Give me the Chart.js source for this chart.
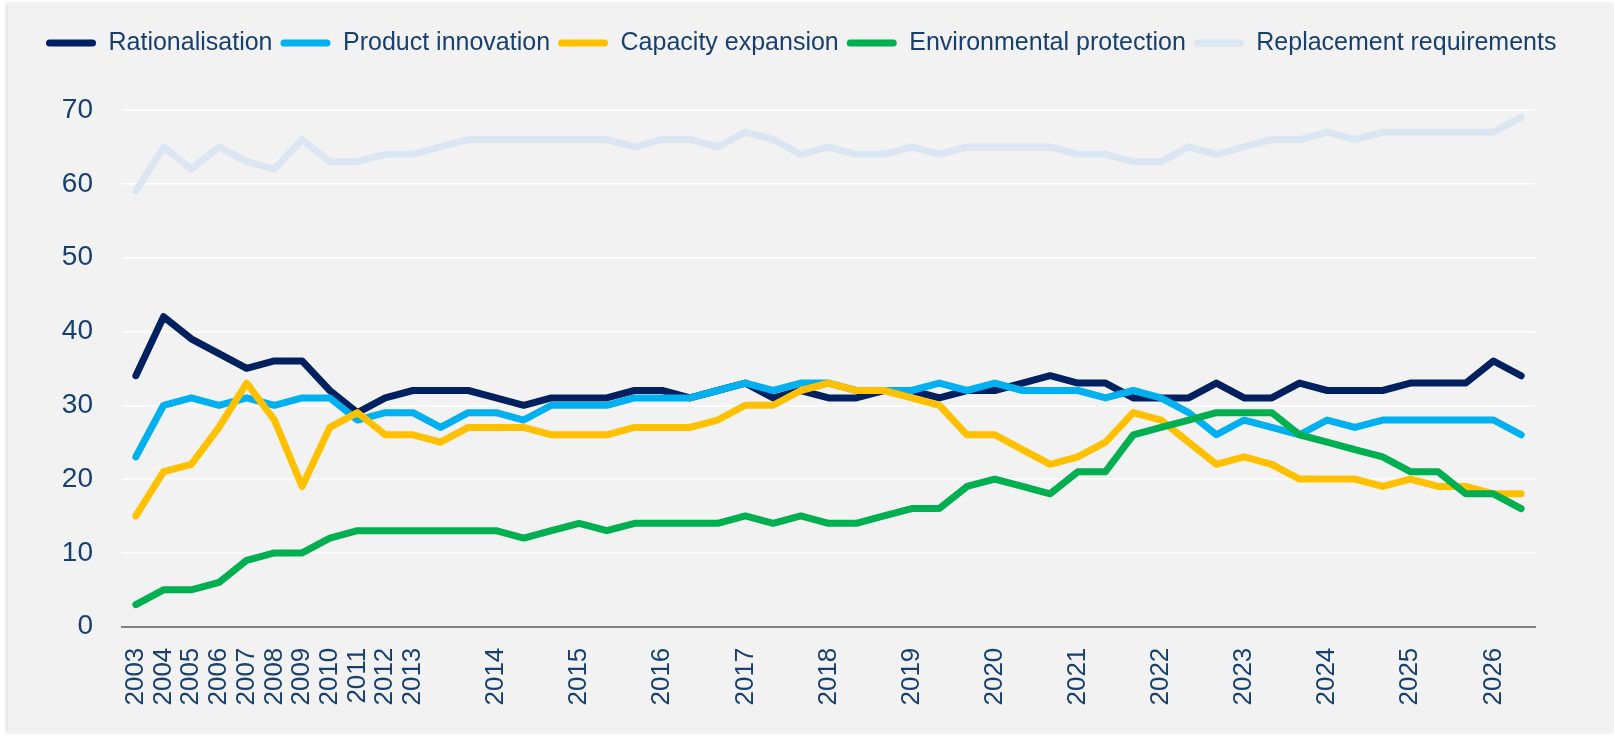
<!DOCTYPE html>
<html>
<head>
<meta charset="utf-8">
<title>Investment motives</title>
<script src="https://cdn.jsdelivr.net/npm/chart.js@4.4.1/dist/chart.umd.min.js"></script>
<style>
  html, body { margin: 0; padding: 0; background: #ffffff; }
  #panel {
    position: absolute; left: 8px; top: 3px; width: 1606px; height: 730px;
    background: #f2f2f2;
    box-shadow: -2px 0 3px rgba(0, 0, 0, 0.12);
  }
  #chart { display: block; }
</style>
</head>
<body>
<div id="panel"><canvas id="chart" width="1606" height="730"></canvas></div>
<script>
// survey points: yearly up to 2013, then three per year (only the year is labelled)
const categories = [
  '2003', '2004', '2005', '2006', '2007', '2008', '2009', '2010', '2011', '2012', '2013',
  '', '', '2014', '', '', '2015', '', '', '2016', '', '', '2017', '', '', '2018', '', '', '2019',
  '', '', '2020', '', '', '2021', '', '', '2022', '', '', '2023', '', '', '2024', '', '', '2025',
  '', '', '2026', ''
];

const rationalisation = [34, 42, 39, 37, 35, 36, 36, 32, 29, 31, 32, 32, 32, 31, 30, 31, 31, 31, 32, 32,
  31, 32, 33, 31, 32, 31, 31, 32, 32, 31, 32, 32, 33, 34, 33, 33, 31,
  31, 31, 33, 31, 31, 33, 32, 32, 32, 33, 33, 33, 36, 34];
const productInnovation = [23, 30, 31, 30, 31, 30, 31, 31, 28, 29, 29, 27, 29, 29, 28, 30, 30, 30, 31, 31,
  31, 32, 33, 32, 33, 33, 32, 32, 32, 33, 32, 33, 32, 32, 32, 31, 32,
  31, 29, 26, 28, 27, 26, 28, 27, 28, 28, 28, 28, 28, 26];
const capacityExpansion = [15, 21, 22, 27, 33, 28, 19, 27, 29, 26, 26, 25, 27, 27, 27, 26, 26, 26, 27, 27,
  27, 28, 30, 30, 32, 33, 32, 32, 31, 30, 26, 26, 24, 22, 23, 25, 29,
  28, 25, 22, 23, 22, 20, 20, 20, 19, 20, 19, 19, 18, 18];
const environmentalProtection = [3, 5, 5, 6, 9, 10, 10, 12, 13, 13, 13, 13, 13, 13, 12, 13, 14, 13, 14, 14,
  14, 14, 15, 14, 15, 14, 14, 15, 16, 16, 19, 20, 19, 18, 21, 21, 26,
  27, 28, 29, 29, 29, 26, 25, 24, 23, 21, 21, 18, 18, 16];
const replacementRequirements = [59, 65, 62, 65, 63, 62, 66, 63, 63, 64, 64, 65, 66, 66, 66, 66, 66, 66, 65, 66,
  66, 65, 67, 66, 64, 65, 64, 64, 65, 64, 65, 65, 65, 65, 64, 64, 63,
  63, 65, 64, 65, 66, 66, 67, 66, 67, 67, 67, 67, 67, 69];

const seriesNames = ['Rationalisation', 'Product innovation', 'Capacity expansion', 'Environmental protection', 'Replacement requirements'];
const seriesColors = ['#002060', '#00b0f0', '#ffc000', '#00b050', '#dce6f2'];
const yTicks = [0, 10, 20, 30, 40, 50, 60, 70];

const textColor = '#17406f';
const sansFont = "'Liberation Sans', Arial, sans-serif";

const allSeries = [rationalisation, productInnovation, capacityExpansion, environmentalProtection, replacementRequirements];
const datasets = allSeries.map((values, i) => ({
  label: seriesNames[i],
  data: values,
  borderColor: seriesColors[i],
  backgroundColor: seriesColors[i],
  borderWidth: 7,
  borderCapStyle: 'round',
  borderJoinStyle: 'round',
  pointRadius: 0,
  tension: 0,
  order: allSeries.length - i // later series on top
}));

// legend sits in one row across the full width, plot pushed down below it
const legendGap = {
  id: 'legendGap',
  beforeInit(chart) {
    const fit = chart.legend.fit;
    chart.legend.fit = function () {
      this.maxWidth = chart.width;
      fit.call(this);
      this.height = 87.5;
    };
  },
  afterLayout(chart) {
    chart.legend.right = chart.width;
  }
};

const ctx = document.getElementById('chart').getContext('2d');
new Chart(ctx, {
  type: 'line',
  data: { labels: categories, datasets: datasets },
  plugins: [legendGap],
  options: {
    responsive: false,
    animation: false,
    layout: { padding: { left: 30, right: 79, top: 19.5, bottom: 0 } },
    plugins: {
      tooltip: { enabled: false },
      legend: {
        position: 'top',
        align: 'start',
        labels: {
          color: textColor,
          font: { family: sansFont, size: 25 },
          boxWidth: 50,
          boxHeight: 7,
          useBorderRadius: true,
          borderRadius: 3.5,
          padding: 8,
          sort: (a, b) => a.datasetIndex - b.datasetIndex,
          generateLabels(chart) {
            return Chart.defaults.plugins.legend.labels.generateLabels(chart)
              .map(item => Object.assign(item, { lineWidth: 0 }));
          }
        }
      }
    },
    scales: {
      x: {
        offset: true,
        grid: { display: false, drawTicks: false },
        border: { display: true, color: '#808080', width: 2 },
        ticks: {
          autoSkip: false,
          minRotation: 90,
          maxRotation: 90,
          padding: 21,
          color: textColor,
          font: { family: sansFont, size: 26 }
        },
        afterFit(scale) { scale.height = 106.3; }
      },
      y: {
        min: 0,
        max: 70,
        afterBuildTicks(scale) { scale.ticks = yTicks.map(v => ({ value: v })); },
        grid: { color: '#ffffff', lineWidth: 1.5, drawTicks: false },
        border: { display: false },
        ticks: {
          padding: 29,
          color: textColor,
          font: { family: sansFont, size: 28 }
        },
        afterFit(scale) { scale.width = 84; }
      }
    }
  }
});
</script>
</body>
</html>
